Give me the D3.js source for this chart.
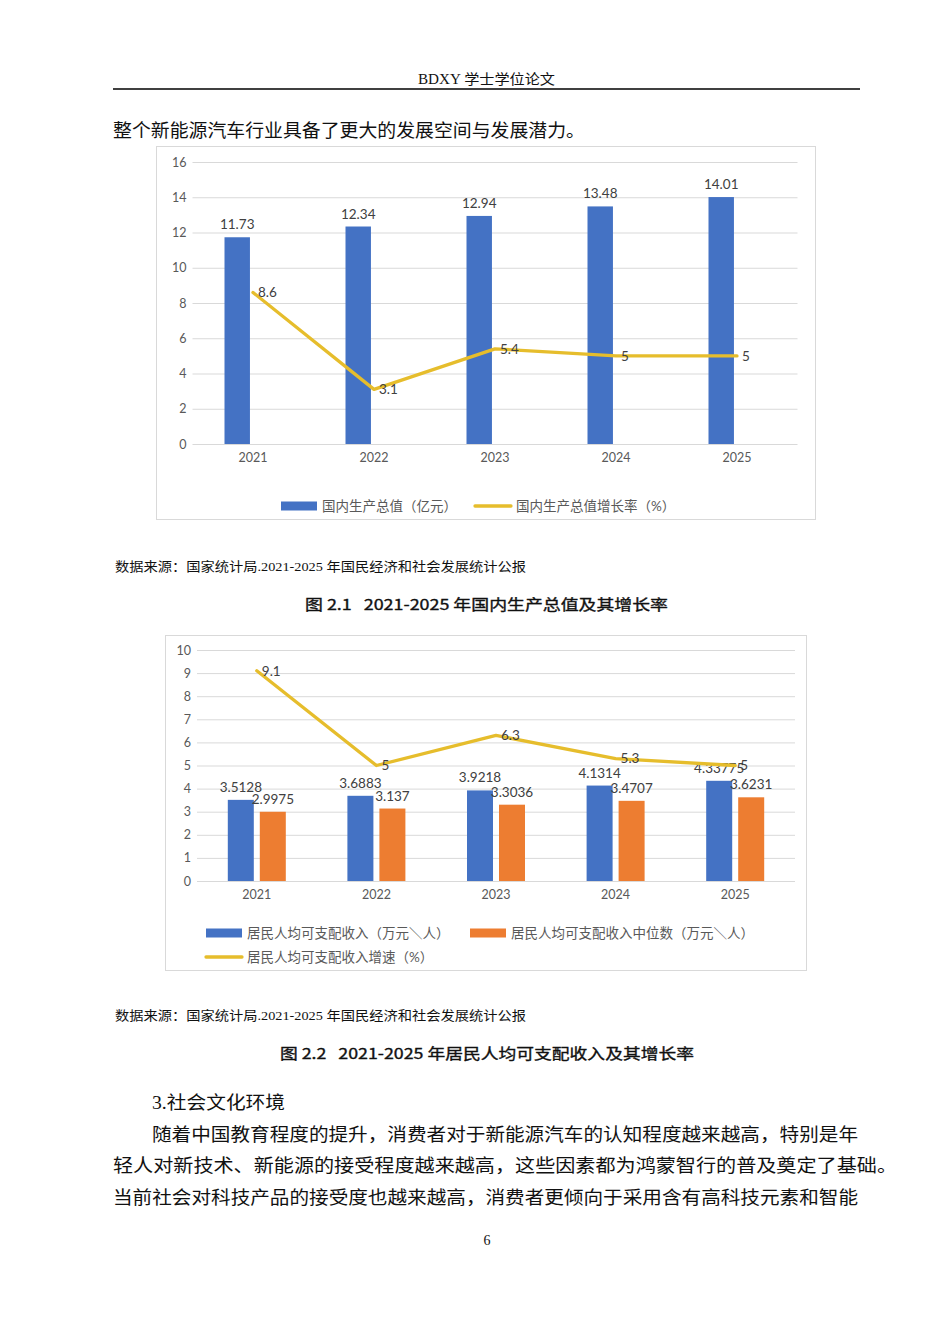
<!DOCTYPE html>
<html>
<head>
<meta charset="utf-8">
<script src="https://d3js.org/d3.v7.min.js"></script>
<style>
  body { margin: 0; background: #fff; }
  svg { display: block; }
  .doc { font-family: "Liberation Serif", "Noto Sans CJK SC", serif; fill: #111; }
  .cap { font-family: "Noto Sans CJK SC", sans-serif; fill: #111; stroke: #111; stroke-width: 0.35px; }
  .chart text { font-family: Lato, "Noto Sans CJK SC", sans-serif; }
  .grid line { stroke: #d9d9d9; }
  .grid text { fill: #595959; font-size: 12.5px; }
  .xax text { fill: #595959; font-size: 12.5px; }
  .lbl { fill: #404040; font-size: 13.5px; }
  .leg { fill: #595959; font-size: 13.5px; }
</style>
</head>
<body>
<svg width="950" height="1344"></svg>
<script>
// chart 1 data
var years = ["2021", "2022", "2023", "2024", "2025"];
var gdp = [11.73, 12.34, 12.94, 13.48, 14.01];
var gdpGrowth = [8.6, 3.1, 5.4, 5, 5];
var gdpTicks = [0, 2, 4, 6, 8, 10, 12, 14, 16];

// chart 2 data
var income = [3.5128, 3.6883, 3.9218, 4.1314, 4.33775];
var incomeMedian = [2.9975, 3.137, 3.3036, 3.4707, 3.6231];
var incomeGrowth = [9.1, 5, 6.3, 5.3, 5];
var incomeTicks = [0, 1, 2, 3, 4, 5, 6, 7, 8, 9, 10];

var BLUE = "#4472c4", ORANGE = "#ed7d31", GOLD = "#e6bd2c";

var svg = d3.select("svg");

// ---- page text ----
function txt(x, y, s, cls, size, len, anchor) {
  var t = svg.append("text").attr("class", cls).attr("x", x).attr("y", y)
    .style("font-size", size + "px").style("white-space", "pre").text(s);
  if (len) t.attr("textLength", len).attr("lengthAdjust", "spacingAndGlyphs");
  if (anchor) t.attr("text-anchor", anchor);
  return t;
}

txt(418, 84, "BDXY 学士学位论文", "doc", 14, 137);
svg.append("line").attr("x1", 113).attr("x2", 860).attr("y1", 89).attr("y2", 89)
  .attr("stroke", "#000").attr("stroke-width", 1.6);
txt(113, 137, "整个新能源汽车行业具备了更大的发展空间与发展潜力。", "doc", 18.5, 472);

txt(115, 571, "数据来源：国家统计局.2021-2025 年国民经济和社会发展统计公报", "doc", 13, 411);
txt(305, 610, "图 2.1   2021-2025 年国内生产总值及其增长率", "cap", 15, 363);
txt(115, 1020, "数据来源：国家统计局.2021-2025 年国民经济和社会发展统计公报", "doc", 13, 411);
txt(280, 1059, "图 2.2   2021-2025 年居民人均可支配收入及其增长率", "cap", 15, 414);

txt(152, 1109, "3.社会文化环境", "doc", 18.5, 133);
txt(152, 1141, "随着中国教育程度的提升，消费者对于新能源汽车的认知程度越来越高，特别是年", "doc", 18.5, 706);
txt(113, 1172, "轻人对新技术、新能源的接受程度越来越高，这些因素都为鸿蒙智行的普及奠定了基础。", "doc", 18.5, 784);
txt(113, 1204, "当前社会对科技产品的接受度也越来越高，消费者更倾向于采用含有高科技元素和智能", "doc", 18.5, 745);
txt(487, 1245, "6", "doc", 14, null, "middle");

// ---- generic combo chart ----
function combo(opt) {
  var g = svg.append("g").attr("class", "chart");
  g.append("rect").attr("x", opt.frame[0]).attr("y", opt.frame[1])
    .attr("width", opt.frame[2]).attr("height", opt.frame[3])
    .attr("fill", "#fff").attr("stroke", "#d9d9d9");

  var x = d3.scaleBand().domain(years).range(opt.xr).padding(0);
  var y = d3.scaleLinear().domain(opt.ydom).range(opt.yr);

  var grid = g.append("g").attr("class", "grid")
    .attr("transform", "translate(" + opt.xr[0] + ",0)")
    .call(d3.axisLeft(y).tickValues(opt.ticks).tickSize(-(opt.xr[1] - opt.xr[0]))
      .tickPadding(6).tickFormat(d3.format("d")));
  grid.select(".domain").remove();

  var xa = g.append("g").attr("class", "xax")
    .attr("transform", "translate(0," + opt.yr[0] + ")")
    .call(d3.axisBottom(x).tickSize(0).tickPadding(9));
  xa.select(".domain").remove();

  // inner band for the bar slots (chart 1 keeps an empty second slot)
  var inner = d3.scaleBand().domain(d3.range(2))
    .range([-opt.span, opt.span]).paddingInner(opt.gap / (opt.barW + opt.gap));

  opt.bars.forEach(function(b, si) {
    var cx = function(i) { return x(years[i]) + x.bandwidth() / 2 + inner(si); };
    g.selectAll(null).data(b.values).enter().append("rect")
      .attr("x", function(d, i) { return cx(i); })
      .attr("y", function(d) { return y(d); })
      .attr("width", inner.bandwidth())
      .attr("height", function(d) { return y(0) - y(d); })
      .attr("fill", b.color);
    g.selectAll(null).data(b.values).enter().append("text")
      .attr("class", "lbl").attr("text-anchor", "middle")
      .attr("x", function(d, i) { return cx(i) + inner.bandwidth() / 2; })
      .attr("y", function(d) { return y(d) - 8; })
      .text(function(d) { return d; });
  });

  var px = function(d, i) { return x(years[i]) + x.bandwidth() / 2; };
  g.append("path").datum(opt.line)
    .attr("fill", "none").attr("stroke", GOLD).attr("stroke-width", 3.3)
    .attr("stroke-linejoin", "round").attr("stroke-linecap", "round")
    .attr("d", d3.line().x(px).y(function(d) { return y(d); }));
  g.selectAll(null).data(opt.line).enter().append("text")
    .attr("class", "lbl")
    .attr("x", function(d, i) { return px(d, i) + 5; })
    .attr("y", function(d) { return y(d); })
    .attr("dy", "0.35em")
    .text(function(d) { return d; });

  // legend
  opt.legend.forEach(function(l) {
    if (l.type === "bar") {
      g.append("rect").attr("x", l.x).attr("y", l.y - 4.5).attr("width", 36).attr("height", 9)
        .attr("fill", l.color);
    } else {
      g.append("line").attr("x1", l.x).attr("x2", l.x + 36).attr("y1", l.y).attr("y2", l.y)
        .attr("stroke", l.color).attr("stroke-width", 3.3).attr("stroke-linecap", "round");
    }
    g.append("text").attr("class", "leg").attr("x", l.x + 41).attr("y", l.y)
      .attr("dy", "0.36em").text(l.label);
  });
}

combo({
  frame: [156.5, 146.5, 659, 373],
  xr: [192.5, 797.5], yr: [444, 162], ydom: [0, 16], ticks: gdpTicks,
  span: 28.5, barW: 25, gap: 6,
  bars: [{ values: gdp, color: BLUE }],
  line: gdpGrowth,
  legend: [
    { type: "bar", x: 281, y: 506, color: BLUE, label: "国内生产总值（亿元）" },
    { type: "line", x: 475, y: 506, color: GOLD, label: "国内生产总值增长率（%）" }
  ]
});

combo({
  frame: [165.5, 635.5, 641, 335],
  xr: [197, 795], yr: [881, 650], ydom: [0, 10], ticks: incomeTicks,
  span: 29, barW: 26, gap: 6,
  bars: [{ values: income, color: BLUE }, { values: incomeMedian, color: ORANGE }],
  line: incomeGrowth,
  legend: [
    { type: "bar", x: 206, y: 933, color: BLUE, label: "居民人均可支配收入（万元＼人）" },
    { type: "bar", x: 470, y: 933, color: ORANGE, label: "居民人均可支配收入中位数（万元＼人）" },
    { type: "line", x: 206, y: 957, color: GOLD, label: "居民人均可支配收入增速（%）" }
  ]
});
</script>
</body>
</html>
